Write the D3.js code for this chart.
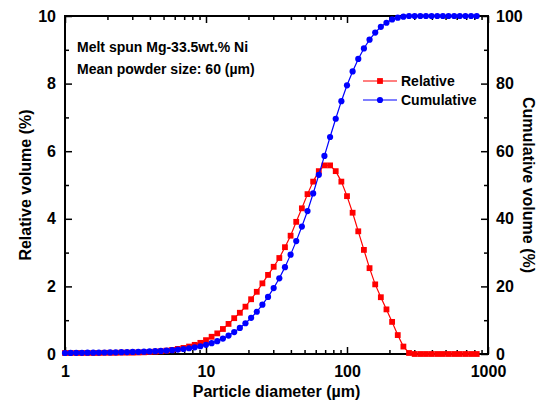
<!DOCTYPE html>
<html>
<head>
<meta charset="utf-8">
<script src="https://cdn.jsdelivr.net/npm/d3@7"></script>
<style>
  body { margin: 0; background: #fff; }
  text { font-family: "Liberation Sans", Arial, sans-serif; font-weight: bold; }
</style>
</head>
<body>
<div id="chart"></div>
<script>
// Particle size classes (um), log spaced
var sizes = [1.000, 1.096, 1.202, 1.318, 1.445, 1.585, 1.738, 1.905, 2.089, 2.291,
  2.512, 2.754, 3.020, 3.311, 3.631, 3.981, 4.365, 4.786, 5.248, 5.754,
  6.310, 6.918, 7.586, 8.318, 9.120, 10.00, 10.96, 12.02, 13.18, 14.45,
  15.85, 17.38, 19.05, 20.89, 22.91, 25.12, 27.54, 30.20, 33.11, 36.31,
  39.81, 43.65, 47.86, 52.48, 57.54, 63.10, 69.18, 75.86, 83.18, 91.20,
  100.0, 109.6, 120.2, 131.8, 144.5, 158.5, 173.8, 190.5, 208.9, 229.1,
  251.2, 275.4, 302.0, 331.1, 363.1, 398.1, 436.5, 478.6, 524.8, 575.4,
  631.0, 691.8, 758.6, 831.8];

// Relative volume (%)
var relative = [0.03, 0.03, 0.03, 0.03, 0.03, 0.03, 0.03, 0.035, 0.035, 0.035,
  0.04, 0.04, 0.04, 0.045, 0.05, 0.06, 0.07, 0.08, 0.10, 0.12,
  0.15, 0.18, 0.22, 0.27, 0.33, 0.41, 0.51, 0.61, 0.74, 0.89,
  1.06, 1.22, 1.40, 1.62, 1.84, 2.09, 2.34, 2.58, 2.84, 3.16,
  3.50, 3.91, 4.31, 4.73, 5.10, 5.41, 5.58, 5.58, 5.41, 5.10,
  4.67, 4.18, 3.63, 3.08, 2.54, 2.06, 1.68, 1.32, 0.95, 0.56,
  0.22, 0.03, 0, 0, 0, 0, 0, 0, 0, 0,
  0, 0, 0, 0];

// Cumulative volume (%)
var cumulative = [0.30, 0.32, 0.34, 0.36, 0.38, 0.40, 0.42, 0.44, 0.46, 0.50,
  0.53, 0.57, 0.60, 0.65, 0.70, 0.76, 0.83, 0.92, 1.02, 1.14,
  1.30, 1.48, 1.70, 1.97, 2.30, 2.70, 3.20, 3.80, 4.55, 5.45,
  6.50, 7.70, 9.10, 10.7, 12.5, 14.6, 16.9, 19.5, 22.4, 25.7,
  29.4, 33.4, 37.7, 42.3, 47.5, 53.0, 58.6, 64.2, 69.6, 74.8,
  79.5, 83.6, 87.3, 90.4, 93.0, 95.1, 96.8, 98.0, 99.0, 99.5,
  99.8, 100, 100, 100, 100, 100, 100, 100, 100, 100,
  100, 100, 100, 100];

var xTicks = [1, 10, 100, 1000];
var xMinor = [2, 3, 4, 5, 6, 7, 8, 9, 20, 30, 40, 50, 60, 70, 80, 90, 200, 300, 400, 500, 600, 700, 800, 900];
var yTicks = [0, 2, 4, 6, 8, 10];
var yMinor = [1, 3, 5, 7, 9];
var y2Ticks = [0, 20, 40, 60, 80, 100];
var y2Minor = [10, 30, 50, 70, 90];

var svgWidth = 539, svgHeight = 405;
var margin = { top: 16, right: 51, bottom: 51, left: 65 };
var width = svgWidth - margin.left - margin.right;
var height = svgHeight - margin.top - margin.bottom;

var svg = d3.select("#chart").append("svg")
  .attr("width", svgWidth)
  .attr("height", svgHeight);

var g = svg.append("g")
  .attr("transform", `translate(${margin.left}, ${margin.top})`);

var x = d3.scaleLog().domain([1, 1000]).range([0, width]);
var y = d3.scaleLinear().domain([0, 10]).range([height, 0]);
var y2 = d3.scaleLinear().domain([0, 100]).range([height, 0]);

function styleAxis(sel) {
  sel.select(".domain").remove();
  sel.selectAll("line").attr("stroke", "#000").attr("stroke-width", 1.5);
  sel.selectAll("text").attr("font-size", "16px").attr("fill", "#000")
    .attr("font-family", "Liberation Sans, Arial, sans-serif").attr("font-weight", "bold");
}

// bottom
g.append("g").attr("transform", `translate(0, ${height})`)
  .call(d3.axisBottom(x).tickValues(xTicks).tickFormat(d3.format("d")).tickSize(-7).tickPadding(12))
  .call(styleAxis);
g.append("g").attr("transform", `translate(0, ${height})`)
  .call(d3.axisBottom(x).tickValues(xMinor).tickFormat("").tickSize(-4))
  .call(styleAxis);
// top
g.append("g")
  .call(d3.axisTop(x).tickValues(xTicks).tickFormat("").tickSize(-7))
  .call(styleAxis);
g.append("g")
  .call(d3.axisTop(x).tickValues(xMinor).tickFormat("").tickSize(-4))
  .call(styleAxis);
// left
g.append("g")
  .call(d3.axisLeft(y).tickValues(yTicks).tickFormat(d3.format("d")).tickSize(-7).tickPadding(9))
  .call(styleAxis);
g.append("g")
  .call(d3.axisLeft(y).tickValues(yMinor).tickFormat("").tickSize(-4))
  .call(styleAxis);
// right
g.append("g").attr("transform", `translate(${width}, 0)`)
  .call(d3.axisRight(y2).tickValues(y2Ticks).tickFormat(d3.format("d")).tickSize(-7).tickPadding(8))
  .call(styleAxis);
g.append("g").attr("transform", `translate(${width}, 0)`)
  .call(d3.axisRight(y2).tickValues(y2Minor).tickFormat("").tickSize(-4))
  .call(styleAxis);

// frame
g.append("rect")
  .attr("width", width).attr("height", height)
  .attr("fill", "none").attr("stroke", "#000").attr("stroke-width", 2);

// data
var relData = sizes.map((s, i) => ({ x: s, y: relative[i] }));
var cumData = sizes.map((s, i) => ({ x: s, y: cumulative[i] }));

g.append("path").datum(relData)
  .attr("fill", "none").attr("stroke", "#ff0000").attr("stroke-width", 1.2)
  .attr("d", d3.line().x(d => x(d.x)).y(d => y(d.y)));
g.selectAll(".sq").data(relData).enter().append("rect")
  .attr("x", d => x(d.x) - 2.9).attr("y", d => y(d.y) - 2.9)
  .attr("width", 5.8).attr("height", 5.8).attr("fill", "#ff0000");

g.append("path").datum(cumData)
  .attr("fill", "none").attr("stroke", "#0000ff").attr("stroke-width", 1.2)
  .attr("d", d3.line().x(d => x(d.x)).y(d => y2(d.y)));
g.selectAll(".dot").data(cumData).enter().append("circle")
  .attr("cx", d => x(d.x)).attr("cy", d => y2(d.y))
  .attr("r", 3.1).attr("fill", "#0000ff");

// legend
var legend = [{ name: "Relative", color: "#ff0000", shape: "square" },
              { name: "Cumulative", color: "#0000ff", shape: "circle" }];
legend.forEach(function(l, i) {
  var ly = 81 - margin.top + i * 19;
  var lx = 363 - margin.left;
  g.append("line").attr("x1", lx).attr("x2", lx + 34).attr("y1", ly).attr("y2", ly)
    .attr("stroke", l.color).attr("stroke-width", 1.2);
  if (l.shape === "square") {
    g.append("rect").attr("x", lx + 17 - 2.9).attr("y", ly - 2.9)
      .attr("width", 5.8).attr("height", 5.8).attr("fill", l.color);
  } else {
    g.append("circle").attr("cx", lx + 17).attr("cy", ly).attr("r", 3.1).attr("fill", l.color);
  }
  g.append("text").attr("x", lx + 38).attr("y", ly).attr("dy", "0.36em")
    .attr("font-size", "14px").text(l.name);
});

// annotation
g.append("text").attr("x", 77 - margin.left).attr("y", 52 - margin.top)
  .attr("font-size", "14px").text("Melt spun Mg-33.5wt.% Ni");
g.append("text").attr("x", 77 - margin.left).attr("y", 74 - margin.top)
  .attr("font-size", "14px").text("Mean powder size: 60 (\u00b5m)");

// axis titles
svg.append("text")
  .attr("transform", `translate(${margin.left + width / 2}, 397)`)
  .attr("text-anchor", "middle").attr("font-size", "16px")
  .text("Particle diameter (\u00b5m)");
svg.append("text")
  .attr("transform", `translate(31, ${margin.top + height / 2}) rotate(-90)`)
  .attr("text-anchor", "middle").attr("font-size", "16px")
  .text("Relative volume (%)");
svg.append("text")
  .attr("transform", `translate(523, ${margin.top + height / 2}) rotate(90)`)
  .attr("text-anchor", "middle").attr("font-size", "16px")
  .text("Cumulative volume (%)");
</script>
</body>
</html>
